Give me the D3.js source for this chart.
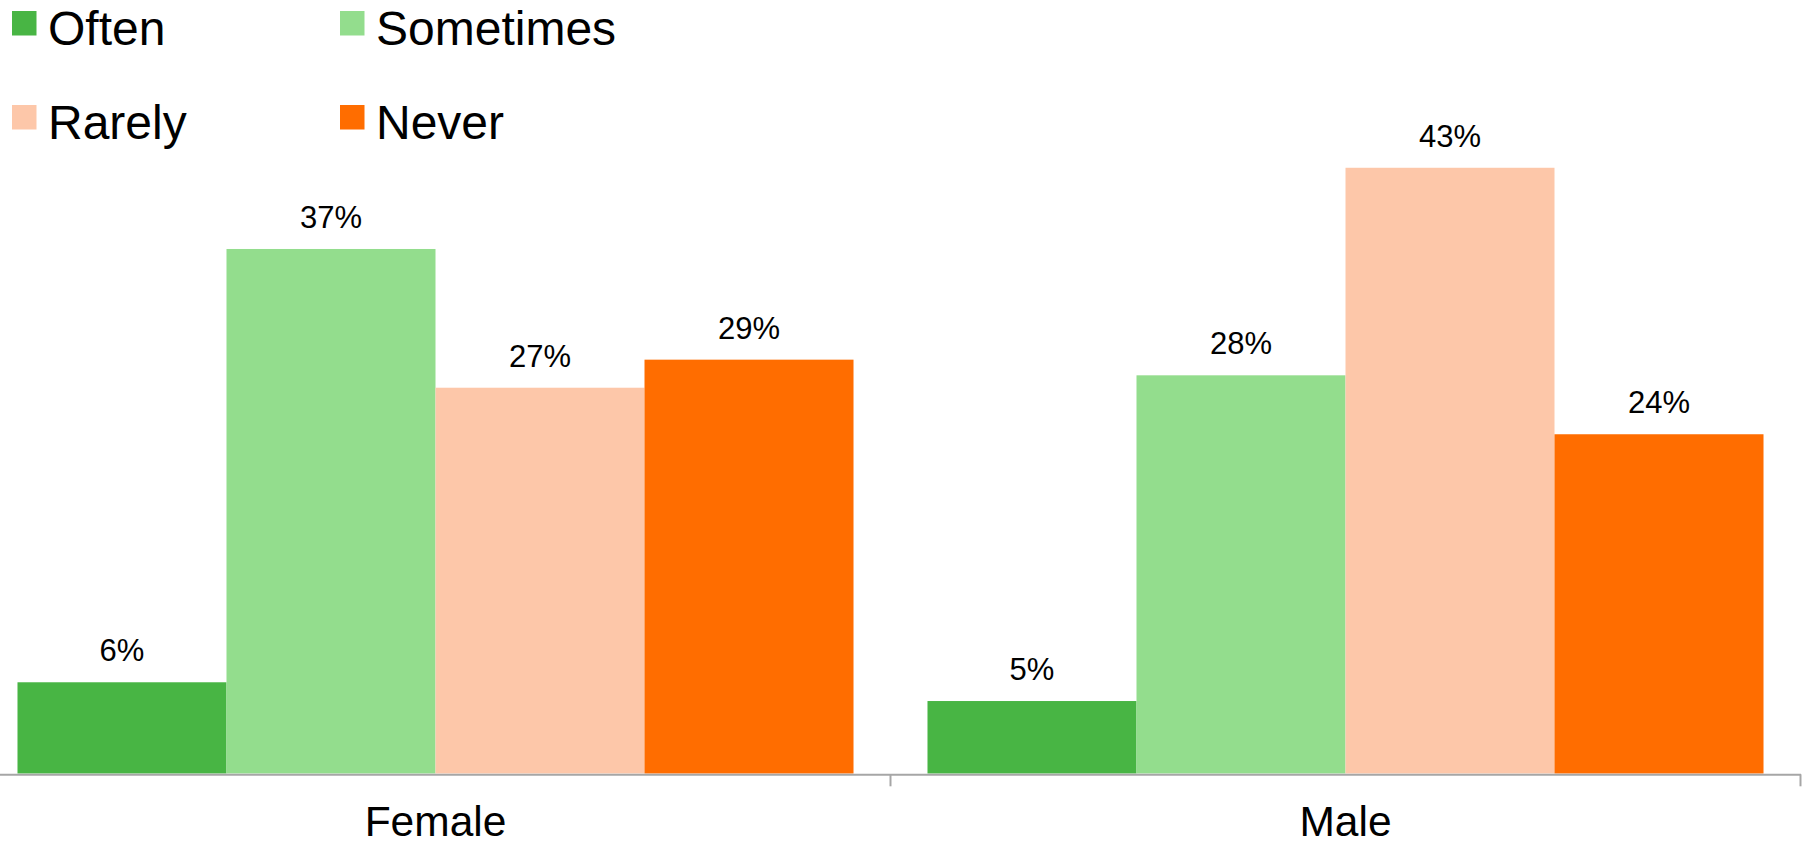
<!DOCTYPE html>
<html>
<head>
<meta charset="utf-8">
<script src="https://cdn.jsdelivr.net/npm/d3@7"></script>
<style>
  html, body { margin: 0; padding: 0; background: #ffffff; }
  svg { display: block; font-family: "Liberation Sans", Arial, sans-serif; }
</style>
</head>
<body>
<svg id="chart" width="1806" height="846"></svg>
<script>
// ---- data ----
const categories = ["Female", "Male"];
const seriesNames = ["Often", "Sometimes", "Rarely", "Never"];
const often     = [6.47, 5.14];
const sometimes = [37.2, 28.24];
const rarely    = [27.36, 42.96];
const never     = [29.35, 24.06];
const seriesColors = ["#48B544", "#93DD8D", "#FDC7A9", "#FF6D00"];

const seriesValues = [often, sometimes, rarely, never];

// ---- layout ----
const svg = d3.select("#chart");

const baseY = 773.5;
const x0 = d3.scaleBand().domain(categories).range([-19.5, 1800.5]).paddingInner(0).paddingOuter(0);
const x1 = d3.scaleBand().domain(seriesNames).range([0, x0.bandwidth()]).paddingInner(0).paddingOuter(0.177);
const y = d3.scaleLinear().domain([0, 50]).range([baseY, baseY - 50 * 14.1]);

const rows = [];
categories.forEach((c, ci) => {
  seriesNames.forEach((s, si) => {
    rows.push({ cat: c, series: s, value: seriesValues[si][ci], color: seriesColors[si] });
  });
});

// bars
svg.append("g").attr("class", "bars")
  .selectAll("rect")
  .data(rows)
  .join("rect")
  .attr("x", d => x0(d.cat) + x1(d.series))
  .attr("width", x1.bandwidth())
  .attr("y", d => y(d.value))
  .attr("height", d => y(0) - y(d.value))
  .attr("fill", d => d.color);

// data labels
svg.append("g").attr("class", "labels")
  .selectAll("text")
  .data(rows)
  .join("text")
  .attr("x", d => x0(d.cat) + x1(d.series) + x1.bandwidth() / 2)
  .attr("y", d => y(d.value) - 21)
  .attr("text-anchor", "middle")
  .attr("font-size", 31)
  .attr("fill", "#000")
  .text(d => Math.round(d.value) + "%");

// x axis
const axisG = svg.append("g")
  .attr("class", "x-axis")
  .attr("transform", `translate(0,${baseY + 0.8})`)
  .call(d3.axisBottom(x0).tickSize(0).tickPadding(0));
axisG.select(".domain").attr("stroke", "#A6A6A6").attr("stroke-width", 2);
axisG.selectAll(".tick text")
  .attr("font-size", 42.5)
  .attr("font-family", "\"Liberation Sans\", Arial, sans-serif")
  .attr("fill", "#000")
  .attr("dy", null)
  .attr("y", 62);
// boundary ticks between categories
axisG.selectAll("line.boundary")
  .data(categories)
  .join("line")
  .attr("class", "boundary")
  .attr("x1", d => x0(d) + x0.bandwidth())
  .attr("x2", d => x0(d) + x0.bandwidth())
  .attr("y1", 0)
  .attr("y2", 12)
  .attr("stroke", "#A6A6A6")
  .attr("stroke-width", 2);

// legend
const legendPos = [[12, 11], [340, 11], [12, 105], [340, 105]];
const legend = svg.append("g").attr("class", "legend");
const items = legend.selectAll("g")
  .data(seriesNames)
  .join("g")
  .attr("transform", (d, i) => `translate(${legendPos[i][0]},${legendPos[i][1]})`);
items.append("rect")
  .attr("width", 24.5).attr("height", 24.5)
  .attr("fill", (d, i) => seriesColors[i]);
items.append("text")
  .attr("x", 36)
  .attr("y", 33.5)
  .attr("font-size", 48)
  .attr("fill", "#000")
  .text(d => d);
</script>
</body>
</html>
